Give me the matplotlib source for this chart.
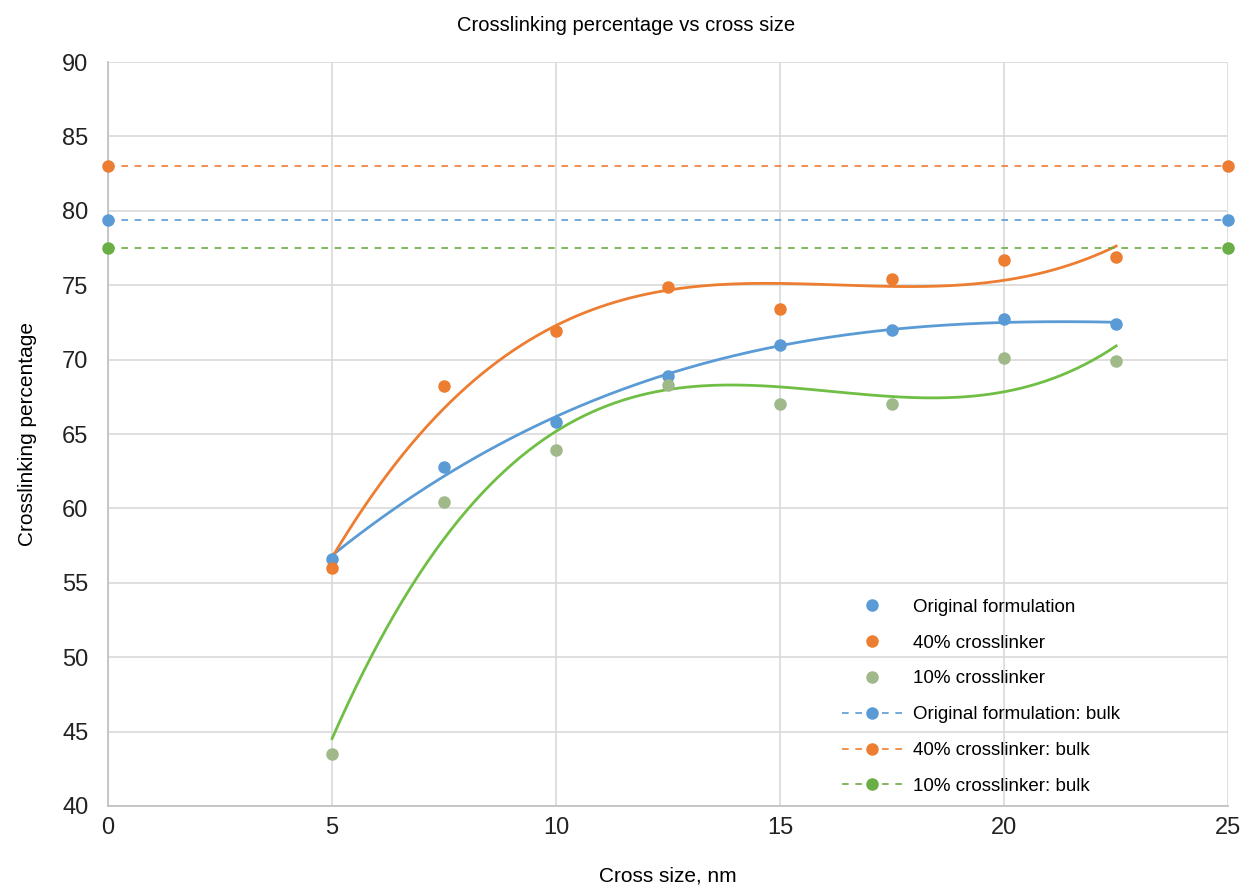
import matplotlib
matplotlib.use("Agg")
import matplotlib.pyplot as plt
import numpy as np

plt.rcParams['font.family'] = ['Liberation Sans', 'DejaVu Sans']

# cross size, nm
cross_size = [5, 7.5, 10, 12.5, 15, 17.5, 20, 22.5]
original = [56.6, 62.8, 65.8, 68.9, 71.0, 72.0, 72.7, 72.4]
cl40 = [56.0, 68.2, 71.9, 74.9, 73.4, 75.4, 76.7, 76.9]
cl10 = [43.5, 60.4, 63.9, 68.3, 67.0, 67.0, 70.1, 69.9]

bulk_x = [0, 25]
bulk_original = 79.4
bulk_40 = 83.0
bulk_10 = 77.5

blue = '#5B9BD5'
orange = '#ED7D31'
green_pt = '#9FB98A'
green_line = '#70BF45'
green_bulk = '#6AAE45'

fig = plt.figure(figsize=(12.52, 8.9), dpi=100)
ax = fig.add_axes([0.0863, 0.0944, 0.8947, 0.8359])

# polynomial trendlines (order 3)
xs = np.linspace(5, 22.5, 200)
for ys, c in [(original, blue), (cl40, orange), (cl10, green_line)]:
    p = np.polyfit(cross_size, ys, 3)
    ax.plot(xs, np.polyval(p, xs), color=c, lw=2, zorder=3)

ax.plot(cross_size, original, 'o', color=blue, ms=8, zorder=4, label='Original formulation')
ax.plot(cross_size, cl40, 'o', color=orange, ms=8, zorder=4, label='40% crosslinker')
ax.plot(cross_size, cl10, 'o', color=green_pt, ms=8, zorder=4, label='10% crosslinker')

ax.plot(bulk_x, [bulk_original] * 2, '--o', color=blue, ms=8, lw=1.2, dashes=(4, 4),
        label='Original formulation: bulk', clip_on=False, zorder=4)
ax.plot(bulk_x, [bulk_40] * 2, '--o', color=orange, ms=8, lw=1.2, dashes=(4, 4),
        label='40% crosslinker: bulk', clip_on=False, zorder=4)
ax.plot(bulk_x, [bulk_10] * 2, '--o', color=green_bulk, ms=8, lw=1.2, dashes=(4, 4),
        label='10% crosslinker: bulk', clip_on=False, zorder=4)

ax.set_xlim(0, 25)
ax.set_ylim(40, 90)
ax.set_xticks([0, 5, 10, 15, 20, 25])
ax.set_yticks(range(40, 91, 5))
ax.grid(True, color='#D9D9D9', lw=1.2)
ax.set_axisbelow(True)
for s in ['top', 'right']:
    ax.spines[s].set_visible(False)
for s in ['left', 'bottom']:
    ax.spines[s].set_color('#BFBFBF')
    ax.spines[s].set_linewidth(1.2)
ax.tick_params(length=0, labelsize=17, colors='#222222')
ax.tick_params(axis='y', pad=14)
ax.tick_params(axis='x', pad=8)

ax.set_xlabel('Cross size, nm', fontsize=15, labelpad=20)
ax.set_ylabel('Crosslinking percentage', fontsize=15, labelpad=18)
fig.suptitle('Crosslinking percentage vs cross size', fontsize=14.5, y=0.982)

ax.legend(loc='lower left', bbox_to_anchor=(0.64, -0.008), frameon=False,
          fontsize=13.5, handlelength=3.2, handletextpad=0.6, labelspacing=1.0)

fig.savefig('out.png', dpi=100, facecolor='white')
